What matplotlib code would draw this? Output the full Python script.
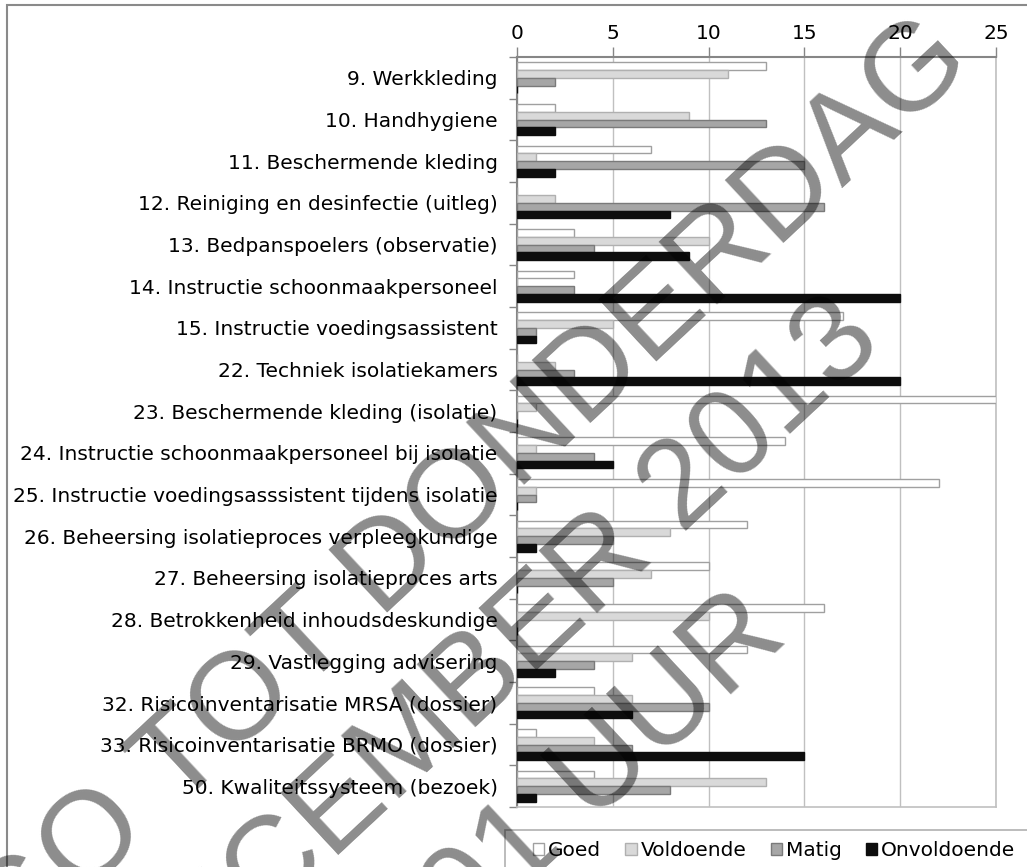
import matplotlib
matplotlib.use("Agg")
import matplotlib.pyplot as plt
import matplotlib.patches as patches
import numpy as np

# questionnaire items, top to bottom
items = ["9. Werkkleding", "10. Handhygiene", "11. Beschermende kleding",
         "12. Reiniging en desinfectie (uitleg)", "13. Bedpanspoelers (observatie)",
         "14. Instructie schoonmaakpersoneel", "15. Instructie voedingsassistent",
         "22. Techniek isolatiekamers", "23. Beschermende kleding (isolatie)",
         "24. Instructie schoonmaakpersoneel bij isolatie",
         "25. Instructie voedingsasssistent tijdens isolatie",
         "26. Beheersing isolatieproces verpleegkundige",
         "27. Beheersing isolatieproces arts", "28. Betrokkenheid inhoudsdeskundige",
         "29. Vastlegging advisering", "32. Risicoinventarisatie MRSA (dossier)",
         "33. Risicoinventarisatie BRMO (dossier)", "50. Kwaliteitssysteem (bezoek)"]

goed        = [13, 2, 7, 0, 3, 3, 17, 0, 25, 14, 22, 12, 10, 16, 12, 4, 1, 4]
voldoende   = [11, 9, 1, 2, 10, 0, 5, 2, 1, 1, 1, 8, 7, 10, 6, 6, 4, 13]
matig       = [2, 13, 15, 16, 4, 3, 1, 3, 0, 4, 1, 5, 5, 0, 4, 10, 6, 8]
onvoldoende = [0, 2, 2, 8, 9, 20, 1, 20, 0, 5, 0, 1, 0, 0, 2, 6, 15, 1]

series = ["Goed", "Voldoende", "Matig", "Onvoldoende"]
ticks_x = [0, 5, 10, 15, 20, 25]

W, H = 1027, 867
fig = plt.figure(figsize=(W / 100, H / 100), dpi=100)
plt.rcParams["font.family"] = "DejaVu Sans"
fs = 14.5

# outer chart frame (runs off the right and bottom edge)
fig.patches.append(patches.Rectangle((7 / W, -0.1), 1.2, 1 - 5 / H + 0.1,
                                     transform=fig.transFigure, fill=False,
                                     edgecolor="#8a8a8a", linewidth=1.5))

ax = fig.add_axes([517 / W, 1 - 807 / H, (996 - 517) / W, (807 - 57) / H])

faces = ["#ffffff", "#d9d9d9", "#a6a6a6", "#0d0d0d"]
edges = ["#a0a0a0", "#b0b0b0", "#7a7a7a", "#0d0d0d"]
data = [goed, voldoende, matig, onvoldoende]

y = np.arange(len(items))
h = 0.185
handles = []
for i, (vals, name) in enumerate(zip(data, series)):
    b = ax.barh(y + (i - 1.5) * h, vals, height=h, color=faces[i],
                edgecolor=edges[i], linewidth=1.0, label=name, zorder=3)
    handles.append(b)

ax.set_xlim(0, 25)
ax.set_ylim(len(items) - 0.5, -0.5)
ax.set_xticks(ticks_x)
ax.xaxis.tick_top()
ax.tick_params(axis="x", direction="out", length=7, width=1, color="#868686",
               labelsize=fs, pad=3)
ax.set_yticks(y)
ax.set_yticklabels(items, fontsize=fs)
ax.set_yticks(np.arange(len(items) + 1) - 0.5, minor=True)
ax.tick_params(axis="y", which="major", length=0, pad=14)
ax.tick_params(axis="y", which="minor", direction="out", length=6, width=1,
               color="#868686")
ax.grid(axis="x", color="#c0c0c0", linewidth=1, zorder=0)
ax.set_axisbelow(True)
for s in ["top", "left"]:
    ax.spines[s].set_color("#868686")
    ax.spines[s].set_linewidth(1.5)
for s in ["right", "bottom"]:
    ax.spines[s].set_color("#c0c0c0")
    ax.spines[s].set_linewidth(1.2)

# legend frame also runs off the right edge
fig.patches.append(patches.Rectangle((505 / W, -0.1), 0.6, 0.1 + 1 - 830 / H,
                                     transform=fig.transFigure, fill=False,
                                     edgecolor="#b0b0b0", linewidth=1.2))
fig.legend(handles=handles, loc="center left", bbox_to_anchor=(525 / W, 1 - 851 / H),
           ncol=4, frameon=False, fontsize=fs, handlelength=0.55, handleheight=0.55,
           handletextpad=0.2, columnspacing=1.2, borderaxespad=0)

# embargo watermark
wm = dict(fontsize=90, rotation=43, rotation_mode="anchor", color="black",
          alpha=0.45, family="Liberation Sans", ha="right", va="baseline",
          zorder=10)
fig.text(975 / W, 1 - 65 / H, "EMBARGO TOT DONDERDAG", **wm)
fig.text(885 / W, 1 - 345 / H, "12 DECEMBER 2013", **wm)
fig.text(790 / W, 1 - 640 / H, "00.01 UUR", **wm)

fig.savefig("out.png", dpi=100)
